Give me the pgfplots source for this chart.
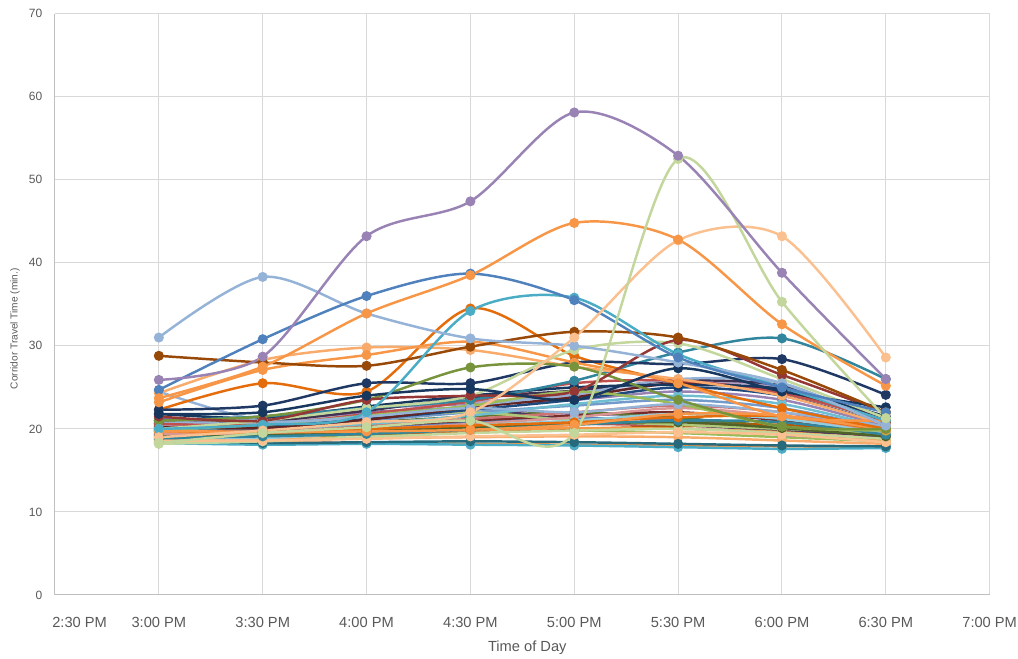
\documentclass[border=0pt]{standalone}
\usepackage{pgfplots}
\pgfplotsset{compat=1.18}
\usepackage{fontspec}
\setmainfont{Liberation Sans}

% Excel-like palette
\definecolor{cBlue}{HTML}{4F81BD}
\definecolor{cRed}{HTML}{C0504D}
\definecolor{cGreen}{HTML}{9BBB59}
\definecolor{cPurple}{HTML}{8064A2}
\definecolor{cCyan}{HTML}{4BACC6}
\definecolor{cOrange}{HTML}{F79646}
\definecolor{cDBlue}{HTML}{2C4D75}
\definecolor{cDRed}{HTML}{772C2A}
\definecolor{cDGreen}{HTML}{5F7530}
\definecolor{cDPurple}{HTML}{4D3B62}
\definecolor{cDTeal}{HTML}{276A7C}
\definecolor{cDOrange}{HTML}{B65708}
\definecolor{cLBlue}{HTML}{729ACA}
\definecolor{cLRed}{HTML}{CD7371}
\definecolor{cLGreen}{HTML}{AFC97A}
\definecolor{cLPurple}{HTML}{9983B5}
\definecolor{cLCyan}{HTML}{6FBDD1}
\definecolor{cLOrange}{HTML}{F9AB6B}
\definecolor{cTBlue}{HTML}{95B3D7}
\definecolor{cTRed}{HTML}{D99694}
\definecolor{cTGreen}{HTML}{C3D69B}
\definecolor{cTPurple}{HTML}{B3A2C7}
\definecolor{cTCyan}{HTML}{93CDDD}
\definecolor{cPeach}{HTML}{FAC090}
\definecolor{cNavy}{HTML}{1F3864}
\definecolor{cNavyB}{HTML}{17375E}
\definecolor{cBrown}{HTML}{984807}
\definecolor{cTeal}{HTML}{31859C}
\definecolor{cMaroon}{HTML}{632523}
\definecolor{cOlive}{HTML}{4F6228}
\definecolor{cViolet}{HTML}{3F3151}
\definecolor{cOrangeD}{HTML}{E46C0A}
\definecolor{cGreenD}{HTML}{77933C}
\definecolor{cRedD}{HTML}{953735}
\definecolor{cNavyC}{HTML}{1F497D}
\definecolor{txt}{HTML}{595959}

% one series: colour, then values at 3:00 ... 6:30 PM
\newcommand{\ser}[9]{\addplot[color=#1] coordinates {(15,#2)(15.5,#3)(16,#4)(16.5,#5)(17,#6)(17.5,#7)(18,#8)(18.5,#9)};}

\begin{document}
\begin{tikzpicture}
\path[use as bounding box] (-41.25pt,-48pt) rectangle (722.25pt,446.25pt);
\begin{axis}[
scale only axis,
width=701pt, height=436pt,
xmin=14.5, xmax=19,
ymin=0, ymax=70,
xtick={14.5,15,15.5,16,16.5,17,17.5,18,18.5,19},
xticklabels={\makebox[0pt][l]{\hspace{-2pt}2:30 PM},3:00 PM,3:30 PM,4:00 PM,4:30 PM,5:00 PM,5:30 PM,6:00 PM,6:30 PM,7:00 PM},
ytick={0,10,...,70},
axis lines*=left,
axis line style={draw=black!25, line width=0.75pt, -},
major tick length=0pt,
grid=major,
major grid style={draw=black!15, line width=0.75pt},
x tick label style={font=\fontsize{11}{13}\selectfont, text=txt, yshift=-13pt},
y tick label style={font=\fontsize{9}{11}\selectfont, text=txt, xshift=-6pt},
/pgf/number format/assume math mode=true,
xlabel={Time of Day},
ylabel={Corridor Travel Time (min.)},
xlabel style={font=\fontsize{11}{13}\selectfont, text=txt, at={(axis description cs:0.5053,-0.0912)}, anchor=center},
ylabel style={font=\fontsize{7.6}{9}\selectfont, text=txt, at={(axis description cs:-0.0428,0.458)}, anchor=center, rotate=0},
every axis plot/.append style={smooth, line width=1.85pt, mark=*, mark size=2.8pt, mark options={solid}},
clip=true,
]
% background band of corridors
\ser{cOrange}{18.5}{18.4}{18.3}{18.2}{18.1}{18.0}{17.9}{17.8}
\ser{cCyan}{18.3}{18.1}{18.2}{18.1}{18.0}{17.8}{17.6}{17.7}
\ser{cGreen}{19.2}{19.0}{19.3}{19.6}{19.8}{19.5}{19.0}{18.5}
\ser{cRed}{19.5}{19.4}{19.8}{20.3}{20.6}{20.4}{20.0}{19.0}
\ser{cBlue}{19.8}{19.6}{20.2}{20.8}{21.3}{21.0}{20.3}{19.2}
\ser{cPurple}{21.2}{21.0}{22.0}{22.5}{21.8}{21.5}{19.3}{19.0}
\ser{cLOrange}{18.9}{18.8}{18.9}{19.0}{19.1}{19.0}{18.6}{18.2}
\ser{cDTeal}{18.7}{18.3}{18.4}{18.5}{18.4}{18.2}{18.0}{17.9}
\ser{cDRed}{19.7}{19.6}{20.3}{21.0}{21.6}{22.0}{21.0}{19.5}
\ser{cDGreen}{20.0}{20.2}{20.8}{21.5}{22.0}{21.3}{20.3}{19.4}
\ser{cDPurple}{21.0}{20.5}{21.5}{22.5}{21.0}{20.5}{19.8}{19.2}
\ser{cDOrange}{19.3}{19.1}{19.4}{19.7}{20.0}{20.3}{20.5}{19.3}
\ser{cLBlue}{20.3}{20.0}{21.0}{22.0}{22.8}{23.5}{22.5}{20.0}
\ser{cLRed}{19.9}{19.8}{20.5}{21.2}{22.0}{22.8}{22.0}{19.7}
\ser{cLGreen}{20.5}{21.0}{21.5}{22.0}{21.0}{20.5}{20.0}{19.5}
\ser{cLPurple}{20.8}{21.5}{22.5}{23.0}{23.5}{24.5}{23.5}{20.3}
\ser{cLCyan}{20.1}{20.0}{20.6}{21.6}{23.0}{24.0}{23.0}{20.1}
\ser{cOrange}{19.6}{19.3}{19.5}{19.8}{20.1}{20.0}{19.6}{18.7}
\ser{cNavyC}{20.6}{20.4}{21.2}{22.3}{23.5}{25.0}{24.0}{20.5}
\ser{cTRed}{19.4}{19.2}{19.9}{20.6}{21.4}{22.5}{21.5}{19.6}
\ser{cTGreen}{18.2}{18.5}{19.0}{19.5}{19.8}{20.0}{19.5}{18.8}
\ser{cTPurple}{20.4}{20.7}{21.8}{23.2}{24.0}{25.5}{25.0}{20.6}
\ser{cTCyan}{19.0}{18.9}{19.6}{20.4}{21.0}{21.8}{21.2}{19.4}
\ser{cPeach}{18.6}{18.6}{18.8}{19.1}{19.3}{19.6}{19.3}{18.4}
\ser{cMaroon}{20.2}{20.1}{21.1}{22.6}{23.8}{25.5}{24.5}{20.8}
\ser{cOlive}{19.1}{19.2}{19.7}{20.2}{20.6}{20.8}{20.1}{19.1}
\ser{cViolet}{20.7}{20.9}{22.2}{23.8}{24.6}{25.8}{25.2}{21.0}
\ser{cTeal}{18.9}{19.1}{19.4}{19.9}{20.5}{21.0}{20.8}{19.3}
\ser{cOrangeD}{19.8}{19.6}{20.0}{20.4}{20.8}{21.4}{21.5}{19.8}
\ser{cTBlue}{20.9}{20.6}{21.5}{22.8}{24.2}{26.0}{25.5}{20.4}
\ser{cRed}{20.6}{20.5}{21.8}{23.3}{25.5}{25.8}{24.3}{21.0}
\ser{cNavyB}{21.8}{21.3}{22.7}{24.0}{25.0}{25.3}{24.8}{21.5}
\ser{cGreen}{19.9}{20.5}{21.6}{22.8}{24.5}{23.0}{20.3}{19.8}
\ser{cOrange}{19.8}{19.6}{19.7}{19.9}{20.5}{21.8}{21.6}{19.9}
% corridors that stand out
\ser{cTBlue}{24.5}{21.0}{21.5}{22.5}{22.0}{23.0}{22.0}{20.3}
\ser{cOrangeD}{22.3}{25.5}{24.5}{34.5}{28.8}{25.5}{22.5}{20.0}
\ser{cTeal}{21.0}{21.5}{22.5}{23.5}{25.8}{29.2}{30.9}{26.0}
\ser{cNavy}{22.3}{22.8}{25.5}{25.5}{28.0}{27.8}{28.4}{24.1}
\ser{cLOrange}{24.3}{28.3}{29.8}{29.5}{27.5}{26.0}{24.0}{20.5}
\ser{cOrange}{23.2}{27.1}{28.9}{30.5}{28.0}{25.5}{21.5}{21.0}
\ser{cGreenD}{21.0}{21.5}{23.5}{27.4}{27.5}{23.5}{20.3}{20.0}
\ser{cTGreen}{20.0}{21.0}{22.5}{24.0}{29.5}{30.3}{26.0}{21.3}
\ser{cRedD}{21.5}{21.0}{23.5}{24.0}{24.5}{30.7}{26.5}{22.0}
\ser{cNavyB}{21.8}{22.0}{24.0}{24.8}{23.5}{27.3}{24.5}{22.6}
\ser{cBrown}{28.8}{28.0}{27.6}{29.9}{31.7}{31.0}{27.1}{22.0}
\ser{cCyan}{20.0}{20.5}{22.0}{34.2}{35.8}{29.0}{25.0}{21.0}
\ser{cTBlue}{31.0}{38.3}{33.9}{30.9}{30.0}{28.0}{25.5}{20.4}
\ser{cBlue}{24.7}{30.8}{36.0}{38.7}{35.5}{28.6}{25.0}{22.0}
\ser{cPeach}{19.0}{19.8}{20.8}{22.0}{31.0}{42.7}{43.2}{28.6}
\ser{cOrange}{23.7}{27.5}{33.9}{38.5}{44.8}{42.8}{32.6}{25.2}
\ser{cTGreen}{18.3}{19.5}{20.2}{21.0}{19.5}{52.5}{35.3}{21.3}
\ser{cLPurple}{25.9}{28.7}{43.2}{47.4}{58.1}{52.9}{38.8}{26.0}
\end{axis}
\end{tikzpicture}
\end{document}
